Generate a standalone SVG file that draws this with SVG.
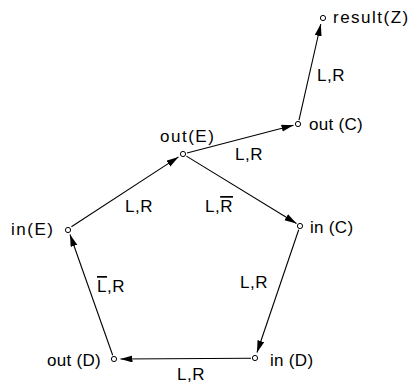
<svg xmlns="http://www.w3.org/2000/svg" width="411" height="385" viewBox="0 0 411 385">
<defs>
<style>
text{font-family:"Liberation Sans",Arial,sans-serif;font-size:17px;fill:#000;letter-spacing:1.5px}
text.sp{letter-spacing:0.3px}
text.lb{letter-spacing:0.5px}
.n{fill:#fff;stroke:#000;stroke-width:1}
.e{stroke:#000;stroke-width:1.1;fill:none;marker-end:url(#ah)}
.ov{text-decoration:overline}
</style>
<marker id="ah" markerUnits="userSpaceOnUse" markerWidth="14" markerHeight="8" refX="12" refY="3.5" orient="auto">
<path d="M0,0 L12,3.5 L0,7 Z" fill="#000"/>
</marker>
</defs>
<g id="connectors">
<line class="e" x1="299" y1="120.1" x2="320.8" y2="24"/>
<line class="e" x1="187" y1="153" x2="293.5" y2="125.2"/>
<line class="e" x1="186.4" y1="156.1" x2="296.5" y2="223.5"/>
<line class="e" x1="71.4" y1="226.8" x2="178.5" y2="156.9"/>
<line class="e" x1="298.7" y1="229.8" x2="257" y2="352.5"/>
<line class="e" x1="251" y1="358.2" x2="120.5" y2="359"/>
<line class="e" x1="112.7" y1="355.2" x2="70" y2="234.5"/>
<text class="lb" x="317" y="81">L,R</text>
<text class="lb" x="235" y="160">L,R</text>
<text class="lb" x="205" y="212">L,<tspan class="ov">R</tspan></text>
<text class="lb" x="125" y="212">L,R</text>
<text class="lb" x="240" y="288">L,R</text>
<text class="lb" x="177" y="380">L,R</text>
<text class="lb" x="97" y="292"><tspan class="ov">L</tspan>,R</text>
</g>
<g id="result-Z"><circle class="n" cx="323" cy="18" r="2.6"/><text x="333" y="23">result(Z)</text></g>
<g id="out-C"><circle class="n" cx="298" cy="124" r="2.6"/><text class="sp" x="309" y="130">out (C)</text></g>
<g id="out-E"><circle class="n" cx="183" cy="154" r="2.6"/><text x="160" y="142">out(E)</text></g>
<g id="in-C"><circle class="n" cx="300" cy="226" r="2.6"/><text class="sp" x="310" y="233">in (C)</text></g>
<g id="in-E"><circle class="n" cx="68" cy="230" r="2.6"/><text x="11" y="235">in(E)</text></g>
<g id="out-D"><circle class="n" cx="114" cy="359" r="2.6"/><text class="sp" x="47" y="366">out (D)</text></g>
<g id="in-D"><circle class="n" cx="255" cy="358" r="2.6"/><text class="sp" x="270" y="366">in (D)</text></g>
</svg>
